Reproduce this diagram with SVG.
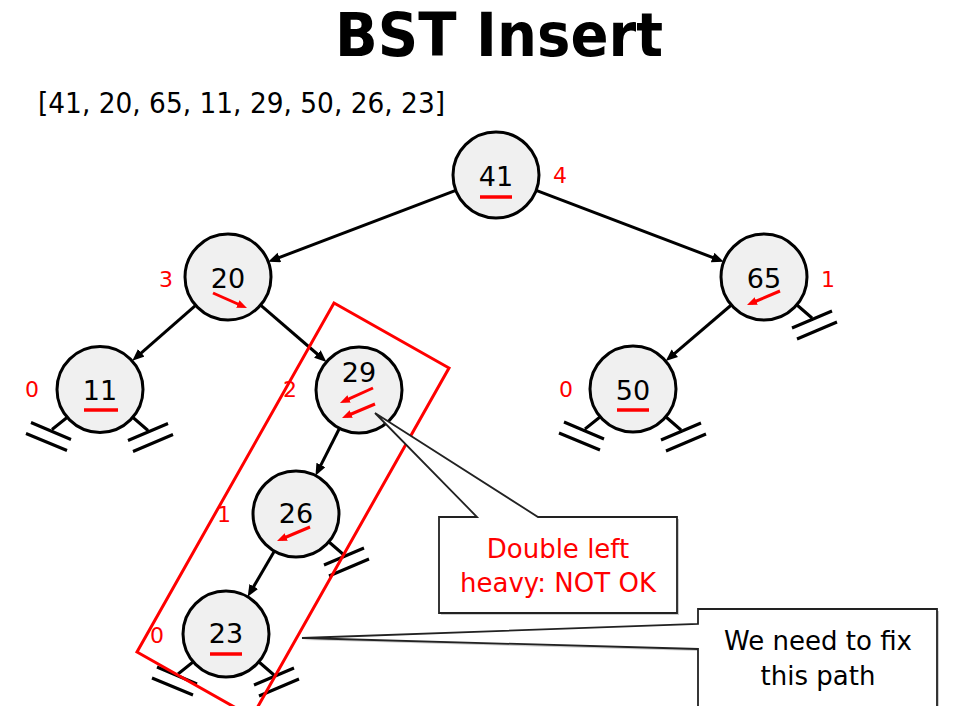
<svg xmlns="http://www.w3.org/2000/svg" xmlns:xlink="http://www.w3.org/1999/xlink" width="960" height="706" viewBox="0 0 960 706">
<style>
.node circle{fill:#f0f0f0;stroke:#000;stroke-width:3}
.num{font-family:"DejaVu Sans","Liberation Sans",sans-serif;font-size:27px;fill:#000;text-anchor:middle}
.bal{font-family:"DejaVu Sans","Liberation Sans",sans-serif;font-size:22px;fill:#ff0000;text-anchor:middle}
.ul{stroke:#ff0000;stroke-width:3.5}
.edge{stroke:#000;stroke-width:3;fill:none;marker-end:url(#ah)}
.rarr{stroke:#ff0000;stroke-width:3;fill:none;marker-end:url(#rah)}
.nil{stroke:#000;stroke-width:3;fill:none}
.call{fill:#fff;stroke:#222;stroke-width:1.8}
.shadow{fill:#999;opacity:0.5}
.ctext{font-family:"DejaVu Sans","Liberation Sans",sans-serif;font-size:26px;text-anchor:middle}
</style>
<defs>
<marker id="ah" markerUnits="userSpaceOnUse" markerWidth="14" markerHeight="12" refX="6" refY="5" orient="auto">
<path d="M0,0 L12,5 L0,10 z" fill="#000"/>
</marker>
<marker id="rah" markerUnits="userSpaceOnUse" markerWidth="12" markerHeight="10" refX="5" refY="4" orient="auto">
<path d="M0,0 L10,4 L0,8 z" fill="#ff0000"/>
</marker>
<g id="nullL" class="nil"><path d="M0,0 L-15,12 M-36,5 L4,22 M-41,16 L0,33"/></g>
<g id="nullR" class="nil"><path d="M0,0 L15,13 M-5,23 L35,6 M0,34 L40,17"/></g>
</defs>
<rect width="960" height="706" fill="#fff"/>
<text x="499" y="56" font-family="DejaVu Sans,'Liberation Sans',sans-serif" font-weight="bold" font-size="60" text-anchor="middle" textLength="328" lengthAdjust="spacingAndGlyphs">BST Insert</text>
<text x="38" y="113" font-family="DejaVu Sans,'Liberation Sans',sans-serif" font-size="28" textLength="407" lengthAdjust="spacingAndGlyphs">[41, 20, 65, 11, 29, 50, 26, 23]</text>

<g id="connectors">
<path class="edge" d="M455.8,190.3 L273.8,259.6"/>
<path class="edge" d="M536.2,190.3 L718.2,259.6"/>
<path class="edge" d="M195.6,305.3 L136.8,356.8"/>
<path class="edge" d="M260.6,305.1 L321.9,358"/>
<path class="edge" d="M731.3,305 L670.3,357.1"/>
<path class="edge" d="M339.5,428.3 L318.2,470.4"/>
<path class="edge" d="M274.3,551.2 L250.7,591.6"/>
<use xlink:href="#nullL" x="67" y="417.5"/>
<use xlink:href="#nullR" x="133" y="417.5"/>
<use xlink:href="#nullR" x="797" y="305"/>
<use xlink:href="#nullL" x="600" y="417"/>
<use xlink:href="#nullR" x="666" y="417"/>
<use xlink:href="#nullR" x="329" y="542"/>
<use xlink:href="#nullL" x="193" y="662"/>
<use xlink:href="#nullR" x="259" y="662"/>
</g>

<g id="n41" class="node"><circle cx="496" cy="175" r="43"/><text class="num" x="496" y="186">41</text><line class="ul" x1="480" y1="197" x2="512" y2="197"/><text class="bal" x="560" y="183">4</text></g>
<g id="n20" class="node"><circle cx="228" cy="277" r="43"/><text class="num" x="228" y="288">20</text><path class="rarr" d="M213,293 L242.4,306"/><text class="bal" x="166" y="287">3</text></g>
<g id="n65" class="node"><circle cx="764" cy="277" r="43"/><text class="num" x="764" y="288">65</text><path class="rarr" d="M780,291 L751.6,303"/><text class="bal" x="828" y="287">1</text></g>
<g id="n11" class="node"><circle cx="100" cy="389.5" r="43"/><text class="num" x="100" y="400">11</text><line class="ul" x1="84" y1="410" x2="118" y2="410"/><text class="bal" x="32" y="397">0</text></g>
<g id="n29" class="node"><circle cx="359" cy="390" r="43"/><text class="num" x="359" y="382">29</text><path class="rarr" d="M373,388 L344.5,400.9"/><path class="rarr" d="M375,404 L346.6,416"/><text class="bal" x="290" y="397">2</text></g>
<g id="n50" class="node"><circle cx="633" cy="389" r="43"/><text class="num" x="633" y="400">50</text><line class="ul" x1="617" y1="410" x2="649" y2="410"/><text class="bal" x="566" y="397">0</text></g>
<g id="n26" class="node"><circle cx="296" cy="514" r="43"/><text class="num" x="296" y="523">26</text><path class="rarr" d="M310,527 L281.6,539"/><text class="bal" x="224" y="522">1</text></g>
<g id="n23" class="node"><circle cx="226" cy="634" r="43"/><text class="num" x="226" y="643">23</text><line class="ul" x1="210" y1="654" x2="242" y2="654"/><text class="bal" x="157" y="643">0</text></g>

<polygon id="path-box" points="334,303 449,368 252,717 137,652" fill="none" stroke="#ff0000" stroke-width="3"/>

<g id="callout1">
<path class="shadow" d="M441,519 L479,519 L377,415 L540,519 L679,519 L679,615 L441,615 Z"/>
<path class="call" d="M439,517 L477,517 L375,413 L538,517 L677,517 L677,613 L439,613 Z"/>
<text class="ctext" x="558" y="558" fill="#ff0000">Double left</text>
<text class="ctext" x="558" y="592" fill="#ff0000">heavy: NOT OK</text>
</g>
<g id="callout2">
<path class="shadow" d="M700,611 L939,611 L939,714 L700,714 L700,651 L304,640 L700,626 Z"/>
<path class="call" d="M698,609 L937,609 L937,712 L698,712 L698,649 L302,638 L698,624 Z"/>
<text class="ctext" x="818" y="650" fill="#000">We need to fix</text>
<text class="ctext" x="818" y="685" fill="#000">this path</text>
</g>
</svg>
